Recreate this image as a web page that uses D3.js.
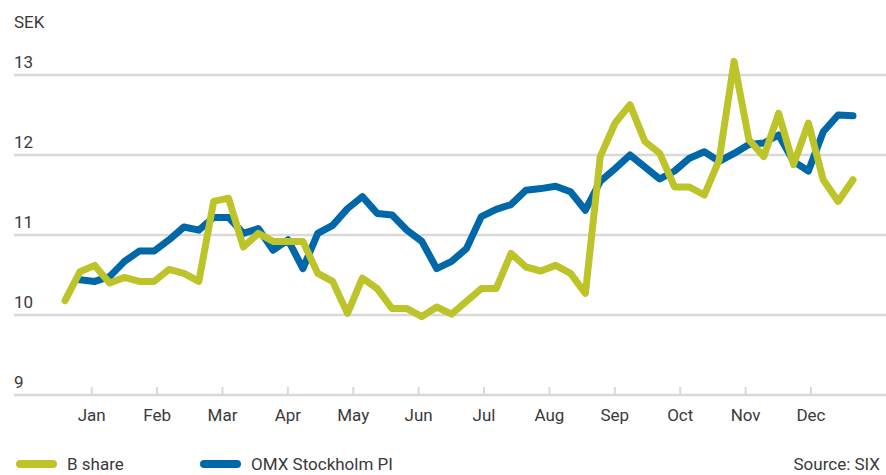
<!DOCTYPE html>
<html>
<head>
<meta charset="utf-8">
<script src="https://cdn.jsdelivr.net/npm/d3@7"></script>
<style>
  html, body { margin: 0; padding: 0; background: #fff; }
  svg { display: block; }
  text { font-family: Roboto, "DejaVu Sans", sans-serif; fill: #3a3a3a; }
</style>
</head>
<body>
<script>
const months = ["Jan", "Feb", "Mar", "Apr", "May", "Jun", "Jul", "Aug", "Sep", "Oct", "Nov", "Dec"];
const yTicks = [9, 10, 11, 12, 13];

// weekly closing prices, SEK
const bShare = [10.18, 10.54, 10.62, 10.40, 10.47, 10.42, 10.42, 10.57, 10.52, 10.42,
  11.42, 11.46, 10.85, 11.02, 10.92, 10.92, 10.92, 10.52, 10.42, 10.02,
  10.46, 10.33, 10.08, 10.08, 9.98, 10.10, 10.01, 10.17, 10.33, 10.33,
  10.77, 10.60, 10.55, 10.62, 10.52, 10.27, 11.98, 12.40, 12.63, 12.17,
  12.02, 11.60, 11.60, 11.50, 11.94, 13.17, 12.19, 11.98, 12.52, 11.88,
  12.40, 11.69, 11.42, 11.69];

// index rebased to the share price, starts one week later
const omx = [null, 10.44, 10.42, 10.48, 10.67, 10.80, 10.80, 10.94, 11.10, 11.06,
  11.22, 11.22, 11.02, 11.08, 10.81, 10.94, 10.58, 11.02, 11.12, 11.33,
  11.48, 11.27, 11.25, 11.06, 10.92, 10.58, 10.67, 10.83, 11.23, 11.32,
  11.38, 11.56, 11.58, 11.61, 11.54, 11.31, 11.67, 11.83, 12.00, 11.85,
  11.70, 11.80, 11.96, 12.04, 11.92, 12.02, 12.13, 12.15, 12.25, 11.92,
  11.80, 12.29, 12.50, 12.49];

const W = 886, H = 475;
const green = "#bcc42a", blue = "#0067a8", grid = "#d9d9d9";

const svg = d3.select("body").append("svg")
    .attr("width", W)
    .attr("height", H);

const x = d3.scaleLinear().domain([0, bShare.length - 1]).range([65, 853]);
const xm = d3.scalePoint().domain(months).range([91.7, 811]);
const y = d3.scaleLinear().domain([9, 13]).range([395, 75]);

// grid + y labels
const gy = svg.append("g");
gy.selectAll("line").data(yTicks).enter().append("line")
    .attr("x1", 14).attr("x2", W)
    .attr("y1", d => y(d)).attr("y2", d => y(d))
    .attr("stroke", grid).attr("stroke-width", 2.5);
gy.selectAll("text").data(yTicks).enter().append("text")
    .attr("x", 14).attr("y", d => y(d) - 7)
    .attr("font-size", 17)
    .text(d => d);

svg.append("text").attr("x", 14).attr("y", 28)
    .attr("font-size", 17).text("SEK");

// month ticks
const gx = svg.append("g");
gx.selectAll("line").data(months).enter().append("line")
    .attr("x1", d => xm(d)).attr("x2", d => xm(d))
    .attr("y1", y(9) - 8).attr("y2", y(9))
    .attr("stroke", grid).attr("stroke-width", 2);
gx.selectAll("text").data(months).enter().append("text")
    .attr("x", d => xm(d)).attr("y", 421)
    .attr("text-anchor", "middle")
    .attr("font-size", 17)
    .text(d => d);

// lines
const line = d3.line()
    .defined(d => d != null)
    .x((d, i) => x(i))
    .y(d => y(d));

svg.append("path").datum(omx)
    .attr("d", line)
    .attr("fill", "none").attr("stroke", blue)
    .attr("stroke-width", 7)
    .attr("stroke-linejoin", "round").attr("stroke-linecap", "round");

svg.append("path").datum(bShare)
    .attr("d", line)
    .attr("fill", "none").attr("stroke", green)
    .attr("stroke-width", 7)
    .attr("stroke-linejoin", "round").attr("stroke-linecap", "round");

// legend
const legend = [
  { name: "B share", color: green, x: 16 },
  { name: "OMX Stockholm PI", color: blue, x: 200 }
];
const lg = svg.append("g").selectAll("g").data(legend).enter().append("g");
lg.append("line")
    .attr("x1", d => d.x + 4).attr("x2", d => d.x + 37)
    .attr("y1", 464).attr("y2", 464)
    .attr("stroke", d => d.color).attr("stroke-width", 8)
    .attr("stroke-linecap", "round");
lg.append("text")
    .attr("x", d => d.x + 51).attr("y", 470)
    .attr("font-size", 17)
    .text(d => d.name);

svg.append("text").attr("x", 880).attr("y", 470)
    .attr("text-anchor", "end")
    .attr("font-size", 17)
    .text("Source: SIX");
</script>
</body>
</html>
